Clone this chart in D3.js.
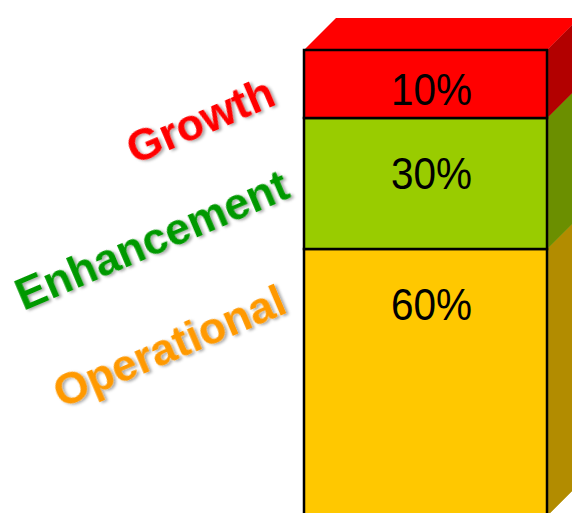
<!DOCTYPE html>
<html>
<head>
<meta charset="utf-8">
<script src="https://cdn.jsdelivr.net/npm/d3@7"></script>
<style>
  html, body { margin: 0; padding: 0; background: #fff; overflow: hidden; }
  svg { display: block; }
</style>
</head>
<body>
<script>
// ---- data ----
const categories = ["Operational", "Enhancement", "Growth"];
const values = [60, 30, 10];
const valueLabels = ["60%", "30%", "10%"];
const frontColors = ["#FFC800", "#99CC00", "#FF0000"];
const sideColors = ["#B28C00", "#6B8F00", "#B20000"];
const labelColors = ["#FF9900", "#009900", "#FF0000"];

(function () {
// ---- layout ----
const W = 572, H = 513;
const svg = d3.select("body").append("svg").attr("width", W).attr("height", H);

const defs = svg.append("defs");
const f = defs.append("filter").attr("id", "shadow")
  .attr("x", "-10%").attr("y", "-20%").attr("width", "130%").attr("height", "160%");
f.append("feDropShadow").attr("dx", 2).attr("dy", 2).attr("stdDeviation", 1.4)
  .attr("flood-color", "#000").attr("flood-opacity", 0.35);

// stacked values
const stack = [];
let acc = 0;
values.forEach((v, i) => { stack.push({ cat: categories[i], v, y0: acc, y1: acc + v, i }); acc += v; });

// illustrative (non-proportional) value scale, as in the reference diagram
const y = d3.scaleLinear().domain([0, 60, 90, 100]).range([516, 249, 118, 50]);
const x = d3.scaleBand().domain(["bar"]).range([304, 547]).padding(0);
const depth = 32;

const g = svg.append("g");
const x0 = x("bar"), x1 = x0 + x.bandwidth();

// side faces
g.selectAll("path.side").data(stack).join("path")
  .attr("class", "side")
  .attr("d", d => {
    const yt = y(d.y1), yb = y(d.y0);
    return `M${x1},${yb}L${x1 + depth},${yb - depth}L${x1 + depth},${yt - depth}L${x1},${yt}Z`;
  })
  .attr("fill", d => sideColors[d.i])
  .attr("stroke", d => sideColors[d.i]).attr("stroke-width", 0.5);

// top face
const topSeg = stack[stack.length - 1];
const yTop = y(topSeg.y1);
g.append("path")
  .attr("d", `M${x0},${yTop}L${x0 + depth},${yTop - depth}L${x1 + depth},${yTop - depth}L${x1},${yTop}Z`)
  .attr("fill", frontColors[topSeg.i]);

// front faces
g.selectAll("rect.front").data(stack).join("rect")
  .attr("class", "front")
  .attr("x", x0).attr("width", x.bandwidth())
  .attr("y", d => y(d.y1)).attr("height", d => y(d.y0) - y(d.y1))
  .attr("fill", d => frontColors[d.i])
  .attr("stroke", "#000").attr("stroke-width", 2.5);

// value labels
g.selectAll("text.val").data(stack).join("text")
  .attr("class", "val")
  .attr("transform", d => {
    const base = y(d.y1) + Math.min((y(d.y0) - y(d.y1)) / 2 + 22, 72);
    return `translate(${(x0 + x1) / 2 + 6},${base - 1}) scale(1,1.1)`;
  })
  .attr("text-anchor", "middle")
  .attr("font-family", "Liberation Sans, Arial, sans-serif")
  .attr("font-size", 40.5)
  .attr("fill", "#000")
  .text(d => valueLabels[d.i]);

// category labels (rotated)
const labelAnchors = { "Growth": [278, 104], "Enhancement": [292, 197], "Operational": [289, 312] };
svg.selectAll("text.cat").data(stack).join("text")
  .attr("class", "cat")
  .attr("transform", d => `translate(${labelAnchors[d.cat][0]},${labelAnchors[d.cat][1]}) rotate(-23)`)
  .attr("text-anchor", "end")
  .attr("font-family", "Liberation Sans, Arial, sans-serif")
  .attr("font-weight", "bold")
  .attr("font-size", 44.5)
  .attr("fill", d => labelColors[d.i])
  .attr("filter", "url(#shadow)")
  .text(d => d.cat);
})();
</script>
</body>
</html>
